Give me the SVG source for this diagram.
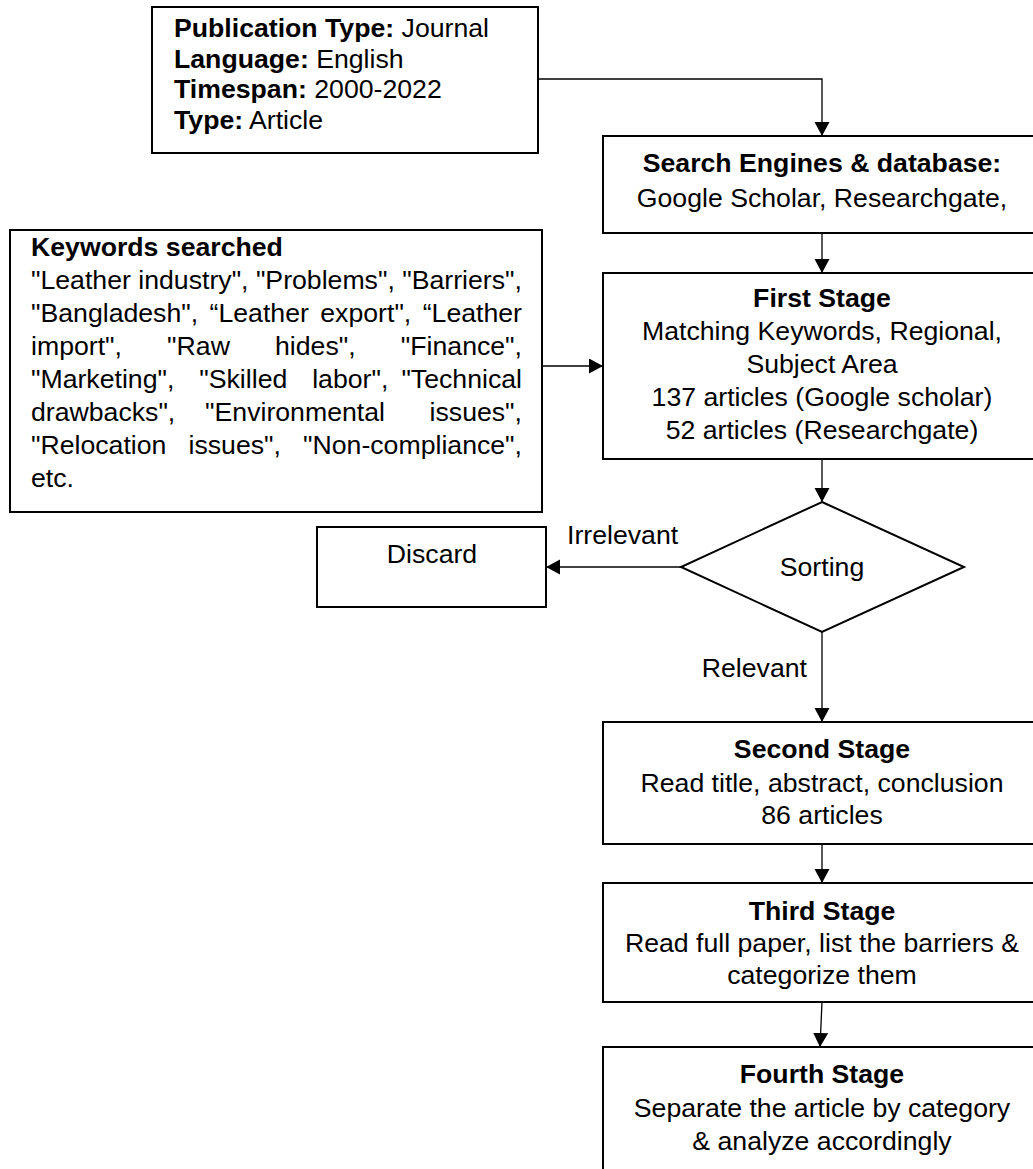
<svg xmlns="http://www.w3.org/2000/svg" width="1033" height="1169" viewBox="0 0 1033 1169">
<style>
  .box { fill: #ffffff; stroke: #000000; stroke-width: 2; }
  .con { fill: none; stroke: #000000; stroke-width: 1.3; }
  text { font-family: "Liberation Sans", Arial, sans-serif; font-size: 26.67px; fill: #000000; }
  .b { font-weight: bold; }
  .c { text-anchor: middle; }
</style>
<defs>
  <marker id="arr" markerUnits="userSpaceOnUse" markerWidth="16" markerHeight="16" refX="14" refY="7.5" orient="auto">
    <path d="M0,0 L14,7.5 L0,15 Z" fill="#000000"/>
  </marker>
</defs>
<rect width="1033" height="1169" fill="#ffffff"/>

<g id="connectors">
  <polyline class="con" points="538,79 822,79 822,136" marker-end="url(#arr)"/>
  <line class="con" x1="822" y1="233" x2="822" y2="273" marker-end="url(#arr)"/>
  <line class="con" x1="542" y1="366" x2="603" y2="366" marker-end="url(#arr)"/>
  <line class="con" x1="822" y1="459" x2="822" y2="502" marker-end="url(#arr)"/>
  <line class="con" x1="681" y1="567" x2="546" y2="567" marker-end="url(#arr)"/>
  <line class="con" x1="822" y1="632" x2="822" y2="722" marker-end="url(#arr)"/>
  <line class="con" x1="822" y1="844" x2="822" y2="883" marker-end="url(#arr)"/>
  <line class="con" x1="822" y1="1002" x2="820" y2="1047" marker-end="url(#arr)"/>
  <text x="567" y="544">Irrelevant</text>
  <text x="807" y="677" text-anchor="end">Relevant</text>
</g>

<g id="criteria">
  <rect class="box" x="152" y="7" width="386" height="146"/>
  <text x="174" y="37"><tspan class="b">Publication Type:</tspan> Journal</text>
  <text x="174" y="67.5"><tspan class="b">Language:</tspan> English</text>
  <text x="174" y="98"><tspan class="b">Timespan:</tspan> 2000-2022</text>
  <text x="174" y="128.5"><tspan class="b">Type:</tspan> Article</text>
</g>

<g id="search">
  <rect class="box" x="603" y="136" width="440" height="97"/>
  <text class="c b" x="822" y="172">Search Engines &amp; database:</text>
  <text class="c" x="822" y="207">Google Scholar, Researchgate,</text>
</g>

<g id="keywords">
  <rect class="box" x="10" y="230" width="532" height="282"/>
  <text class="b" x="31" y="256">Keywords searched</text>
  <text y="289"><tspan x="31">"Leather</tspan><tspan x="138.3">industry",</tspan><tspan x="255.9">"Problems",</tspan><tspan x="402.3">"Barriers",</tspan></text>
  <text y="322"><tspan x="31">"Bangladesh",</tspan><tspan x="209.6">“Leather</tspan><tspan x="320.3">export",</tspan><tspan x="522" text-anchor="end">“Leather</tspan></text>
  <text y="355"><tspan x="31">import",</tspan><tspan x="167.1">"Raw</tspan><tspan x="275">hides",</tspan><tspan x="522" text-anchor="end">"Finance",</tspan></text>
  <text y="388"><tspan x="31">"Marketing",</tspan><tspan x="199.3">"Skilled</tspan><tspan x="312.2">labor",</tspan><tspan x="522" text-anchor="end">"Technical</tspan></text>
  <text y="421"><tspan x="31">drawbacks",</tspan><tspan x="205.1">"Environmental</tspan><tspan x="522" text-anchor="end">issues",</tspan></text>
  <text y="454"><tspan x="31">"Relocation</tspan><tspan x="188.5">issues",</tspan><tspan x="522" text-anchor="end">"Non-compliance",</tspan></text>
  <text x="31" y="487">etc.</text>
</g>

<g id="first-stage">
  <rect class="box" x="603" y="273" width="440" height="186"/>
  <text class="c b" x="822" y="307">First Stage</text>
  <text class="c" x="822" y="340">Matching Keywords, Regional,</text>
  <text class="c" x="822" y="373">Subject Area</text>
  <text class="c" x="822" y="406">137 articles (Google scholar)</text>
  <text class="c" x="822" y="439">52 articles (Researchgate)</text>
</g>

<g id="sorting">
  <polygon class="box" points="822,502 964,567 822,632 681,567"/>
  <text class="c" x="822" y="576">Sorting</text>
</g>

<g id="discard">
  <rect class="box" x="317" y="527" width="229" height="80"/>
  <text class="c" x="432" y="563">Discard</text>
</g>

<g id="second-stage">
  <rect class="box" x="603" y="722" width="440" height="122"/>
  <text class="c b" x="822" y="758">Second Stage</text>
  <text class="c" x="822" y="792">Read title, abstract, conclusion</text>
  <text class="c" x="822" y="824">86 articles</text>
</g>

<g id="third-stage">
  <rect class="box" x="603" y="883" width="440" height="119"/>
  <text class="c b" x="822" y="920">Third Stage</text>
  <text class="c" x="822" y="952">Read full paper, list the barriers &amp;</text>
  <text class="c" x="822" y="984">categorize them</text>
</g>

<g id="fourth-stage">
  <rect class="box" x="603" y="1047" width="440" height="140"/>
  <text class="c b" x="822" y="1083">Fourth Stage</text>
  <text class="c" x="822" y="1117">Separate the article by category</text>
  <text class="c" x="822" y="1150">&amp; analyze accordingly</text>
</g>
</svg>
